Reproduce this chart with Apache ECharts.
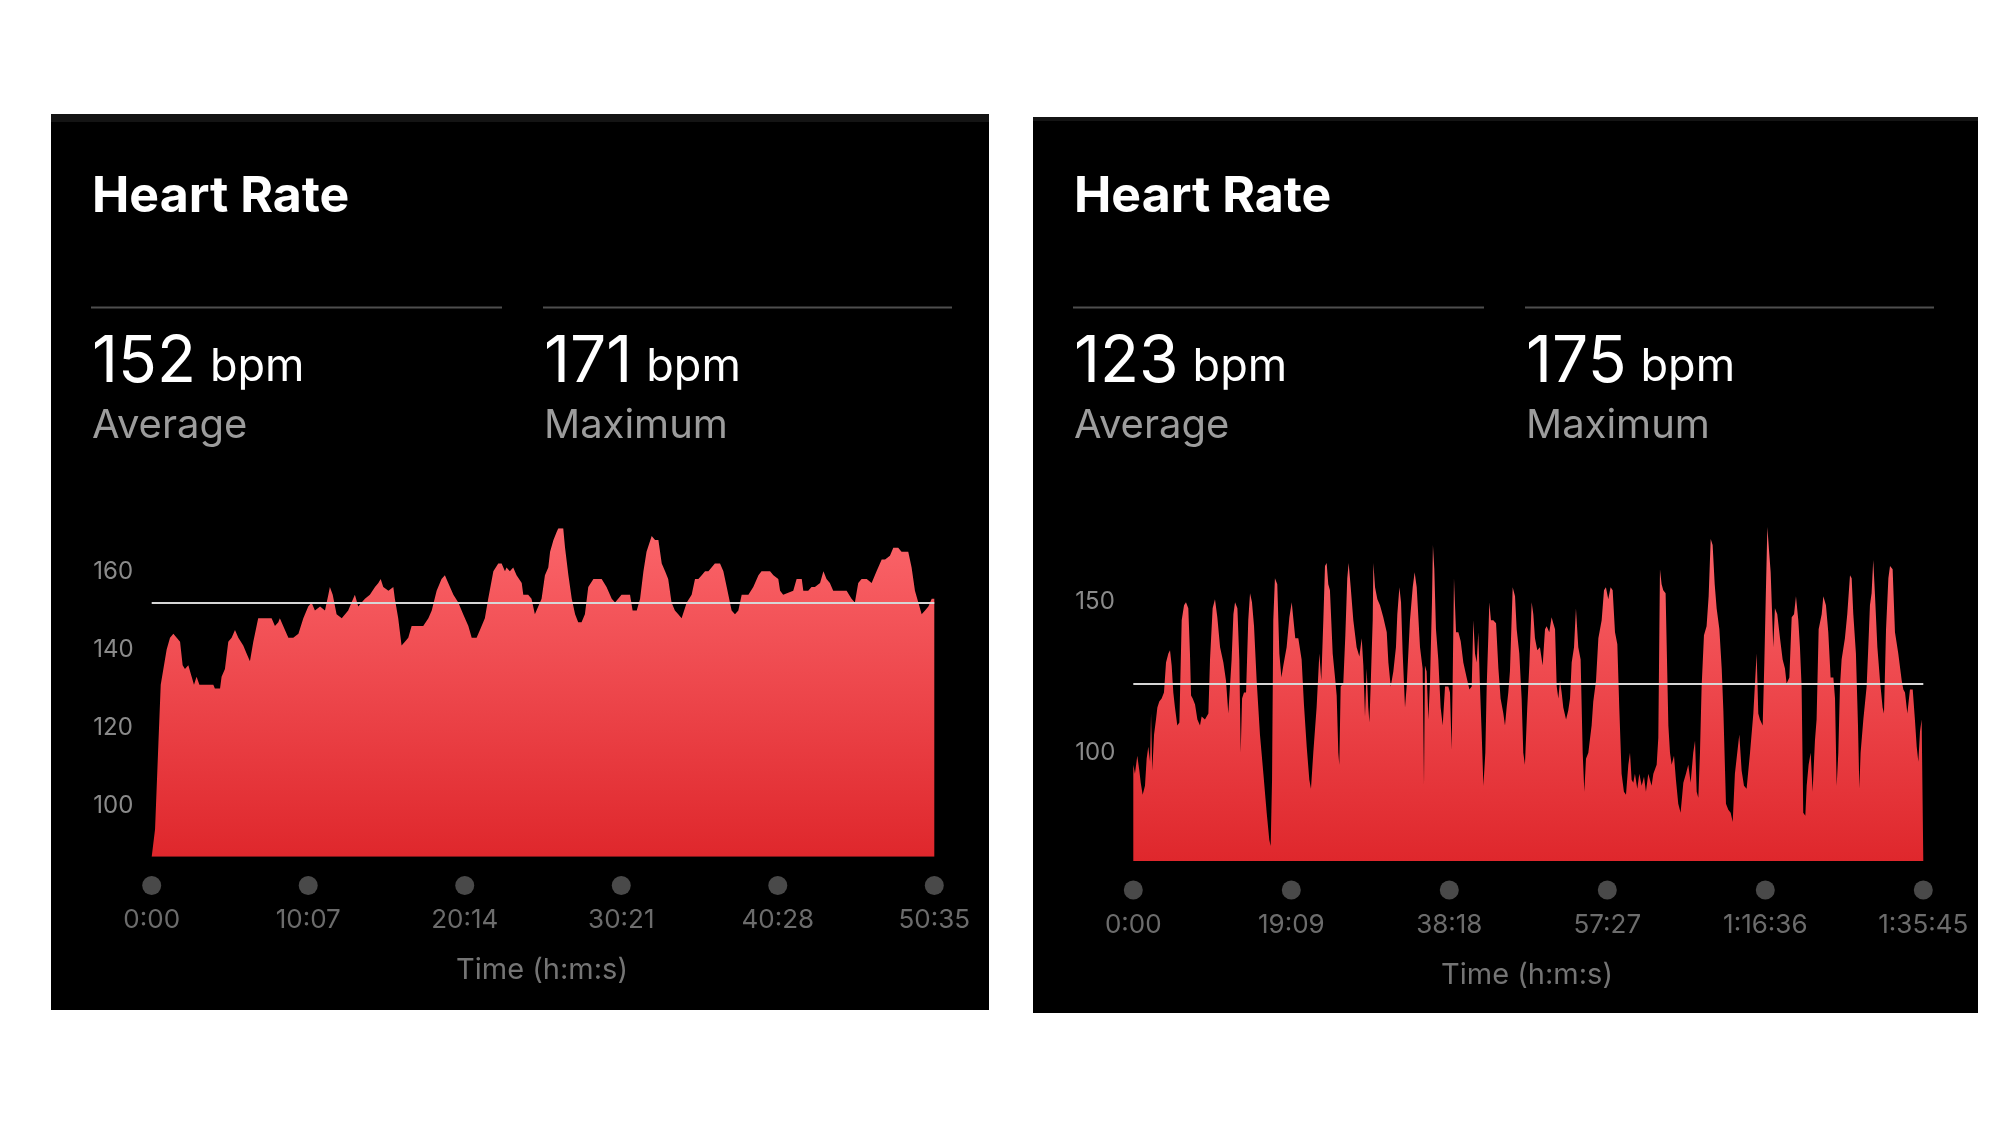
<!DOCTYPE html>
<html><head><meta charset="utf-8">
<script src="https://cdn.jsdelivr.net/npm/echarts@6/dist/echarts.min.js"></script>
<style>html,body{margin:0;padding:0;background:#fff}#c{width:2000px;height:1125px}</style>
</head><body><div id="c"></div>
<script>
// ---- data ----
const titleText = 'Heart Rate';
const leftAvg = 152, leftMax = 171;
const rightAvg = 123, rightMax = 175;
const leftYLabels = [100, 120, 140, 160];
const rightYLabels = [100, 150];
const leftTickSec = [0, 607, 1214, 1821, 2428, 3035];
const leftTickLabels = ['0:00', '10:07', '20:14', '30:21', '40:28', '50:35'];
const rightTickSec = [0, 1149, 2298, 3447, 4596, 5745];
const rightTickLabels = ['0:00', '19:09', '38:18', '57:27', '1:16:36', '1:35:45'];
// [seconds, bpm]
const leftHR = [[0,87],[13,94],[26,116],[35,131],[58,140],[71,143],[84,144],[97,143],[110,142],[120,136],[129,135],[142,136],[155,133],[164,131],[174,133],[185,131],[194,131],[213,131],[239,131],[245,130],[265,130],[271,133],[284,135],[297,142],[310,143],[323,145],[336,143],[355,141],[368,139],[381,137],[394,142],[413,148],[433,148],[465,148],[478,146],[491,147],[497,148],[510,146],[530,143],[549,143],[569,144],[588,148],[607,151],[620,152],[633,150],[653,151],[672,150],[685,154],[691,156],[702,154],[717,149],[737,148],[750,149],[762,150],[775,152],[788,154],[801,151],[814,152],[827,153],[846,154],[866,156],[879,157],[888,158],[898,156],[918,155],[937,156],[943,153],[956,148],[969,141],[982,142],[995,143],[1008,146],[1053,146],[1073,148],[1086,150],[1105,155],[1124,158],[1137,159],[1150,157],[1170,154],[1189,152],[1208,149],[1228,146],[1241,143],[1260,143],[1273,145],[1292,148],[1305,153],[1325,160],[1344,162],[1357,162],[1370,160],[1376,161],[1389,160],[1402,161],[1415,159],[1435,157],[1441,154],[1460,154],[1473,153],[1486,149],[1499,151],[1512,153],[1525,159],[1538,161],[1545,165],[1558,168],[1570,170],[1577,171],[1596,171],[1603,166],[1616,159],[1629,153],[1642,149],[1654,147],[1667,147],[1680,149],[1693,156],[1713,158],[1745,158],[1764,156],[1784,153],[1797,152],[1822,154],[1842,154],[1855,154],[1865,150],[1881,150],[1894,153],[1907,160],[1919,165],[1939,169],[1952,168],[1965,168],[1978,162],[1991,160],[2003,158],[2016,152],[2029,150],[2042,149],[2055,148],[2075,152],[2094,154],[2107,158],[2120,158],[2133,159],[2146,160],[2159,160],[2184,162],[2204,162],[2217,160],[2230,156],[2249,150],[2262,149],[2275,150],[2288,154],[2314,154],[2333,156],[2353,159],[2365,160],[2385,160],[2398,160],[2411,159],[2430,158],[2437,155],[2449,154],[2488,155],[2501,158],[2521,158],[2527,155],[2546,155],[2559,156],[2572,156],[2592,157],[2605,160],[2617,158],[2630,157],[2643,155],[2695,155],[2714,153],[2727,152],[2740,157],[2753,158],[2773,158],[2792,157],[2811,160],[2831,163],[2844,163],[2863,164],[2876,166],[2895,166],[2908,165],[2921,165],[2934,165],[2947,161],[2960,155],[2973,152],[2986,149],[2999,150],[3012,151],[3025,153],[3035,153]];
const rightHR = [[0,96],[12,93],[29,99],[44,94],[54,90],[68,86],[85,89],[97,98],[109,102],[122,97],[129,113],[138,94],[151,106],[165,111],[175,115],[189,117],[206,118],[223,120],[238,130],[255,133],[267,134],[279,129],[291,120],[303,115],[320,109],[335,110],[352,144],[369,149],[383,150],[400,148],[412,133],[420,119],[432,118],[449,116],[466,111],[485,109],[497,112],[521,111],[546,113],[558,131],[577,148],[594,151],[611,145],[631,135],[655,130],[674,124],[691,113],[703,113],[715,131],[728,146],[740,150],[757,148],[771,131],[781,100],[791,118],[805,120],[820,120],[836,144],[849,153],[863,150],[878,142],[897,124],[921,106],[946,93],[970,80],[989,71],[999,69],[1009,91],[1018,144],[1030,158],[1047,156],[1062,133],[1077,125],[1091,129],[1115,135],[1135,145],[1152,150],[1164,150],[1178,138],[1200,138],[1224,131],[1241,116],[1261,102],[1280,91],[1292,88],[1309,100],[1333,115],[1353,133],[1367,124],[1382,144],[1394,162],[1406,163],[1418,156],[1430,154],[1450,133],[1467,125],[1479,119],[1491,100],[1498,96],[1508,122],[1527,123],[1542,139],[1556,158],[1566,163],[1581,155],[1600,144],[1624,135],[1644,132],[1661,138],[1673,129],[1685,112],[1697,128],[1709,115],[1717,110],[1726,122],[1741,144],[1746,163],[1758,155],[1775,151],[1794,149],[1818,145],[1843,140],[1855,130],[1872,122],[1891,127],[1910,135],[1920,146],[1935,155],[1947,150],[1959,133],[1976,115],[1988,122],[2012,144],[2032,155],[2046,160],[2061,155],[2085,135],[2104,128],[2114,89],[2121,129],[2133,127],[2146,111],[2158,124],[2172,150],[2179,169],[2189,161],[2201,141],[2218,131],[2235,115],[2250,109],[2267,122],[2291,122],[2303,120],[2315,101],[2322,122],[2332,158],[2347,140],[2364,140],[2381,137],[2400,130],[2424,125],[2444,121],[2461,122],[2473,144],[2485,133],[2497,130],[2509,140],[2521,122],[2533,107],[2546,89],[2560,100],[2570,122],[2582,139],[2589,150],[2601,144],[2618,144],[2638,143],[2655,128],[2671,118],[2691,113],[2703,109],[2715,115],[2727,120],[2739,127],[2759,155],[2776,152],[2788,141],[2807,133],[2824,118],[2836,100],[2848,96],[2865,115],[2880,129],[2897,150],[2909,146],[2921,138],[2938,134],[2957,135],[2977,129],[2994,141],[3006,142],[3025,140],[3042,145],[3054,143],[3067,141],[3079,122],[3091,118],[3103,124],[3115,120],[3127,115],[3147,111],[3163,114],[3176,118],[3188,130],[3205,135],[3219,148],[3236,135],[3253,131],[3268,100],[3280,87],[3292,98],[3309,100],[3321,100],[3333,109],[3345,117],[3365,124],[3382,138],[3406,144],[3423,154],[3437,155],[3454,151],[3471,155],[3486,154],[3503,140],[3520,136],[3534,115],[3551,93],[3568,87],[3583,86],[3600,96],[3612,100],[3624,91],[3636,90],[3648,93],[3665,88],[3680,93],[3697,89],[3714,92],[3728,87],[3745,93],[3769,89],[3782,93],[3806,96],[3818,105],[3830,161],[3842,156],[3854,154],[3871,153],[3891,109],[3903,100],[3915,96],[3932,99],[3946,91],[3963,83],[3980,80],[4000,90],[4019,93],[4036,96],[4053,90],[4072,100],[4085,104],[4097,87],[4109,85],[4121,100],[4133,122],[4150,139],[4169,142],[4184,152],[4199,171],[4213,169],[4228,156],[4242,148],[4262,141],[4279,128],[4291,114],[4310,83],[4327,81],[4344,80],[4359,77],[4375,93],[4392,100],[4407,106],[4424,94],[4441,89],[4460,88],[4485,100],[4509,113],[4533,133],[4545,113],[4557,111],[4577,109],[4589,130],[4601,155],[4611,175],[4625,166],[4635,160],[4654,135],[4666,148],[4683,146],[4703,138],[4722,131],[4739,128],[4751,123],[4771,125],[4788,145],[4805,146],[4819,152],[4836,144],[4848,135],[4860,122],[4872,80],[4887,79],[4897,89],[4911,96],[4926,100],[4940,87],[4957,104],[4969,111],[4984,141],[5006,146],[5018,152],[5037,149],[5054,140],[5071,125],[5091,125],[5103,118],[5115,89],[5127,100],[5139,122],[5151,131],[5175,138],[5192,146],[5212,159],[5224,158],[5236,146],[5255,133],[5270,109],[5280,88],[5289,100],[5309,111],[5333,122],[5345,135],[5357,149],[5369,153],[5381,164],[5394,152],[5411,135],[5430,124],[5449,115],[5459,113],[5474,141],[5491,158],[5503,162],[5522,161],[5539,140],[5563,133],[5588,124],[5600,121],[5612,120],[5629,113],[5648,121],[5668,121],[5684,111],[5697,102],[5709,97],[5721,107],[5733,111],[5745,111]];

// ---- chart ----
const FONT = 'Inter, "Noto Sans", "Liberation Sans", sans-serif';
const NUM_FONT = '400 64px ' + FONT;
const UNIT_FONT = '400 45px ' + FONT;
const measureCtx = document.createElement('canvas').getContext('2d');
function textWidth(t, font) { measureCtx.font = font; return measureCtx.measureText(t).width; }

const chart = echarts.init(document.getElementById('c'), null, {renderer: 'canvas'});

function areaGradient() {
  return new echarts.graphic.LinearGradient(0, 0, 0, 1, [
    {offset: 0, color: '#fb656a'},
    {offset: 1, color: '#df272c'}
  ]);
}

function panelGraphics(px, py, pw, ph, band, tx, dy, avg, max) {
  const g = [];
  g.push({type: 'rect', shape: {x: px, y: py, width: pw, height: ph}, style: {fill: '#000'}, z: -10});
  g.push({type: 'rect', shape: {x: px, y: py, width: pw, height: band}, style: {fill: '#141414'}, z: -9});
  g.push({type: 'text', x: tx, y: dy + 197, style: {text: titleText, fill: '#fff', font: '700 50px ' + FONT, verticalAlign: 'middle'}});
  g.push({type: 'line', shape: {x1: tx - 1, y1: dy + 307.5, x2: tx + 410, y2: dy + 307.5}, style: {stroke: '#4e4e4e', lineWidth: 2}});
  g.push({type: 'line', shape: {x1: tx + 451, y1: dy + 307.5, x2: tx + 860, y2: dy + 307.5}, style: {stroke: '#4e4e4e', lineWidth: 2}});
  const cols = [[tx, String(avg), 'Average'], [tx + 452, String(max), 'Maximum']];
  cols.forEach(c => {
    const w = textWidth(c[1], NUM_FONT);
    g.push({type: 'text', x: c[0], y: dy + 363, style: {text: c[1], fill: '#fff', font: NUM_FONT, verticalAlign: 'middle'}});
    g.push({type: 'text', x: c[0] + w + 14, y: dy + 367, style: {text: 'bpm', fill: '#fff', font: UNIT_FONT, verticalAlign: 'middle'}});
    g.push({type: 'text', x: c[0], y: dy + 426, style: {text: c[2], fill: '#9c9c9c', font: '400 40px ' + FONT, verticalAlign: 'middle'}});
  });
  return g;
}

const graphics = [].concat(
  panelGraphics(51, 114, 938, 896, 8, 92, 0, leftAvg, leftMax),
  panelGraphics(1033, 117, 945, 896, 4, 1074, 0, rightAvg, rightMax),
  [
    {type: 'text', x: 542, y: 970, style: {text: 'Time (h:m:s)', fill: '#747474', font: '400 29px ' + FONT, align: 'center', verticalAlign: 'middle'}},
    {type: 'text', x: 1527, y: 975, style: {text: 'Time (h:m:s)', fill: '#747474', font: '400 29px ' + FONT, align: 'center', verticalAlign: 'middle'}}
  ]
);

function yAxisFor(gi, min, max, labels, margin) {
  return {
    type: 'value', gridIndex: gi, min: min, max: max,
    axisLine: {show: false}, axisTick: {show: false}, splitLine: {show: false},
    axisLabel: {customValues: labels, align: 'left', margin: margin, color: '#8a8a8a', fontSize: 24, fontFamily: FONT}
  };
}
function hiddenY(gi) {
  return {type: 'value', gridIndex: gi, min: -1, max: 1, show: false};
}
function dataX(gi, max) {
  return {type: 'value', gridIndex: gi, min: 0, max: max, show: false};
}
function tickX(gi, max, secs, labels, margin) {
  return {
    type: 'value', gridIndex: gi, min: 0, max: max,
    axisLine: {show: false}, axisTick: {show: false}, splitLine: {show: false},
    axisLabel: {
      customValues: secs, margin: margin, color: '#6c6c6c', fontSize: 26, fontFamily: FONT,
      formatter: v => labels[secs.indexOf(v)]
    }
  };
}

function areaSeries(ai, data, avg) {
  return {
    type: 'line', xAxisIndex: ai, yAxisIndex: ai, data: data,
    showSymbol: false, symbol: 'none', silent: true,
    lineStyle: {width: 0, opacity: 0},
    areaStyle: {color: areaGradient(), opacity: 1, origin: 'start'},
    markLine: {
      silent: true, symbol: ['none', 'none'], label: {show: false},
      lineStyle: {color: '#d6d6d6', width: 2, type: 'solid'},
      data: [{yAxis: avg}]
    }
  };
}
function dotSeries(ai, secs) {
  return {
    type: 'scatter', xAxisIndex: ai, yAxisIndex: ai, clip: false, silent: true,
    symbolSize: 19, itemStyle: {color: '#5b5b5b'},
    data: secs.map(s => [s, 0])
  };
}

chart.setOption({
  animation: false,
  backgroundColor: '#ffffff',
  graphic: {elements: graphics},
  grid: [
    {left: 151.7, top: 528.3, width: 782.6, height: 328.4},
    {left: 151.7, top: 876, width: 782.6, height: 19},
    {left: 1133.3, top: 527, width: 790, height: 334},
    {left: 1133.3, top: 881, width: 790, height: 18}
  ],
  xAxis: [
    dataX(0, 3035),
    tickX(1, 3035, leftTickSec, leftTickLabels, 12),
    dataX(2, 5745),
    tickX(3, 5745, rightTickSec, rightTickLabels, 13)
  ],
  yAxis: [
    yAxisFor(0, 87, leftMax, leftYLabels, 58.4),
    hiddenY(1),
    yAxisFor(2, 64, rightMax, rightYLabels, 58),
    hiddenY(3)
  ],
  series: [
    areaSeries(0, leftHR, leftAvg),
    dotSeries(1, leftTickSec),
    areaSeries(2, rightHR, rightAvg),
    dotSeries(3, rightTickSec)
  ]
});
</script>
</body></html>
